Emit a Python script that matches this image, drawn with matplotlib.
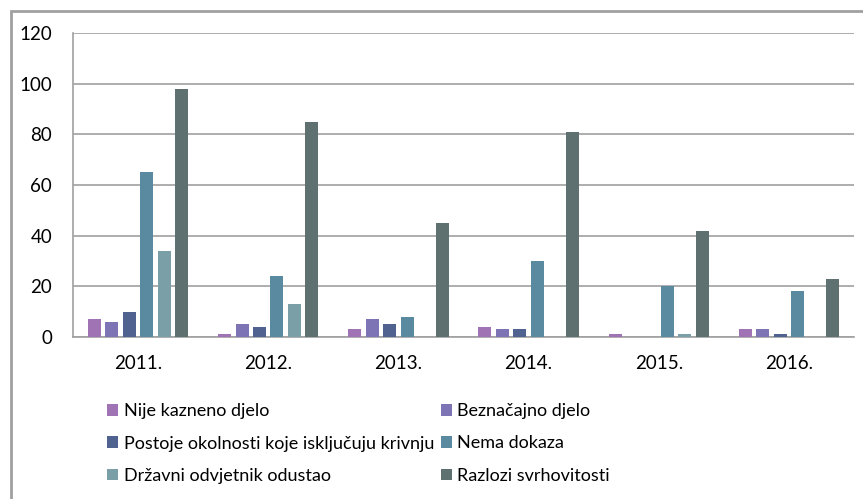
import matplotlib.pyplot as plt
import numpy as np
from matplotlib.patches import Rectangle

years = ['2011.', '2012.', '2013.', '2014.', '2015.', '2016.']
series = ['Nije kazneno djelo', 'Beznačajno djelo',
          'Postoje okolnosti koje isključuju krivnju', 'Nema dokaza',
          'Državni odvjetnik odustao', 'Razlozi svrhovitosti']
nije = [7, 1, 3, 4, 1, 3]
beznacajno = [6, 5, 7, 3, 0, 3]
postoje = [10, 4, 5, 3, 0, 1]
nema = [65, 24, 8, 30, 20, 18]
drzavni = [34, 13, 0, 0, 1, 0]
razlozi = [98, 85, 45, 81, 42, 23]
values = [nije, beznacajno, postoje, nema, drzavni, razlozi]
colors = ['#A074B4', '#7D74B5', '#4F6290', '#5A8AA0', '#7A9FA6', '#5F7070']

plt.rcParams['font.family'] = ['Lato', 'DejaVu Sans']

fig = plt.figure(figsize=(8.63, 4.99), dpi=100)
ax = fig.add_axes([73 / 863, 1 - 337 / 499, (854 - 73) / 863, (337 - 33) / 499])

x = np.arange(len(years))
slot = 0.134
for i, (name, vals, c) in enumerate(zip(series, values, colors)):
    ax.bar(x + (i - 2.5) * slot, vals, width=0.10, color=c, label=name, zorder=3)

ax.set_xlim(-0.5, len(years) - 0.5)
ax.set_ylim(0, 120)
ax.set_yticks(range(0, 121, 20))
ax.set_xticks(x)
ax.set_xticklabels(years)
ax.tick_params(length=0, labelsize=13.5, colors='black')
ax.tick_params(axis='x', pad=13)
ax.tick_params(axis='y', pad=15)
ax.yaxis.grid(True, color='#A0A0A0', linewidth=1.2, zorder=0)
for s in ['top', 'right']:
    ax.spines[s].set_visible(False)
for s in ['left', 'bottom']:
    ax.spines[s].set_color('#A0A0A0')
    ax.spines[s].set_linewidth(1.2)

handles, labels = ax.get_legend_handles_labels()
order = [0, 2, 4, 1, 3, 5]
fig.legend([handles[i] for i in order], [labels[i] for i in order],
           loc='upper left', bbox_to_anchor=(91 / 863, 1 - 387 / 499),
           ncol=2, frameon=False, fontsize=13, handlelength=0.62, handleheight=0.62,
           handletextpad=0.3, columnspacing=0.35, labelspacing=0.9)

fig.patches.append(Rectangle((11 / 863, -0.05), 1.1, 1 - 11 / 499 + 0.05,
                             transform=fig.transFigure, fill=False,
                             edgecolor='#A0A0A0', linewidth=2))

fig.savefig('out.png', dpi=100)
